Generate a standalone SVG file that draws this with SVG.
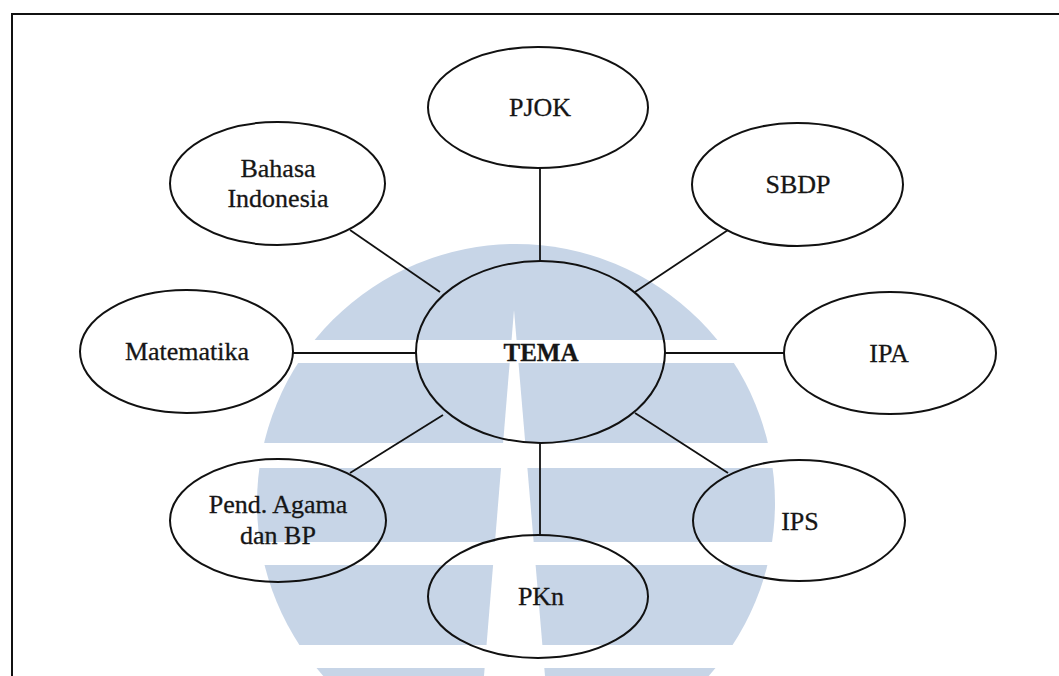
<svg xmlns="http://www.w3.org/2000/svg" width="1059" height="676" viewBox="0 0 1059 676">
  <style>
    .node ellipse { fill: none; stroke: #111; stroke-width: 2; }
    .node text { font-family: "Liberation Serif", "Times New Roman", serif; font-size: 26px; fill: #161616; stroke: #161616; stroke-width: 0.3; text-anchor: middle; }
    .node text.bold { font-weight: bold; font-size: 25px; }
    #connectors line { stroke: #111; stroke-width: 1.8; }
    .wm { fill: #c7d5e7; }
  </style>
  <rect x="0" y="0" width="1059" height="676" fill="#ffffff"/>
  <g id="watermark">
    <circle class="wm" cx="516" cy="503" r="259"/>
    <rect x="240" y="340" width="560" height="23" fill="#ffffff"/>
    <rect x="240" y="443" width="560" height="25" fill="#ffffff"/>
    <rect x="240" y="542" width="560" height="23" fill="#ffffff"/>
    <rect x="240" y="645" width="560" height="23" fill="#ffffff"/>
    <polygon points="514,310 545,676 484,676" fill="#ffffff"/>
  </g>
  <path d="M12,676 L12,14 L1059,14" fill="none" stroke="#111" stroke-width="2"/>
  <g id="connectors">
    <line x1="350" y1="230" x2="440" y2="292"/>
    <line x1="540" y1="168" x2="540" y2="261"/>
    <line x1="728" y1="230" x2="635" y2="292"/>
    <line x1="293" y1="353" x2="416" y2="353"/>
    <line x1="665" y1="353" x2="784" y2="353"/>
    <line x1="443" y1="415" x2="350" y2="473"/>
    <line x1="635" y1="413" x2="728" y2="473"/>
    <line x1="540" y1="443" x2="540" y2="535"/>
  </g>
  <g id="node-pjok" class="node">
    <ellipse cx="538" cy="107.5" rx="110" ry="60.5"/>
    <text x="540" y="116">PJOK</text>
  </g>
  <g id="node-bahasa" class="node">
    <ellipse cx="277.5" cy="183.5" rx="107.5" ry="61.5"/>
    <text x="278" y="177">Bahasa</text>
    <text x="278" y="207">Indonesia</text>
  </g>
  <g id="node-sbdp" class="node">
    <ellipse cx="797.5" cy="184.5" rx="105.5" ry="61.5"/>
    <text x="798" y="193">SBDP</text>
  </g>
  <g id="node-matematika" class="node">
    <ellipse cx="186.5" cy="351.5" rx="106.5" ry="61.5"/>
    <text x="187" y="360">Matematika</text>
  </g>
  <g id="node-tema" class="node">
    <ellipse cx="540.5" cy="352" rx="124.5" ry="91"/>
    <text class="bold" x="541" y="361">TEMA</text>
  </g>
  <g id="node-ipa" class="node">
    <ellipse cx="890" cy="353" rx="106" ry="61"/>
    <text x="889" y="362">IPA</text>
  </g>
  <g id="node-pend" class="node">
    <ellipse cx="278" cy="520.5" rx="108" ry="61.5"/>
    <text x="278" y="513">Pend. Agama</text>
    <text x="278" y="544">dan BP</text>
  </g>
  <g id="node-ips" class="node">
    <ellipse cx="799" cy="520.5" rx="106" ry="60.5"/>
    <text x="800" y="530">IPS</text>
  </g>
  <g id="node-pkn" class="node">
    <ellipse cx="538" cy="596.5" rx="110" ry="61.5"/>
    <text x="541" y="605">PKn</text>
  </g>
</svg>
